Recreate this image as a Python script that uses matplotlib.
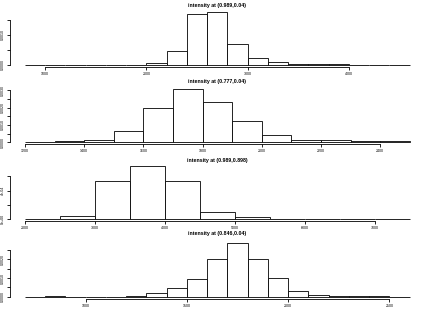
import matplotlib
matplotlib.use("Agg")
import matplotlib.pyplot as plt
import numpy as np

plt.rcParams['font.family'] = ['Liberation Sans', 'DejaVu Sans']

# panel titles
titles = ['intensity at (0.989,0.04)', 'intensity at (0.777,0.04)',
          'intensity at (0.989,0.898)', 'intensity at (0.846,0.04)']

# bin edges of each histogram
edges1 = np.arange(800, 4601, 200)
edges2 = np.arange(1200, 2501, 100)
edges3 = np.arange(2000, 7501, 500)
edges4 = np.arange(700, 2601, 100)

# densities
dens1 = [0.000002, 0.0, 0.000004, 0.0, 0.000006, 0.00001, 0.00007, 0.00045, 0.00168,
         0.00177, 0.00071, 0.00022, 0.00009, 0.00003, 0.00002, 0.00002, 0.00001,
         0.00001, 0.000005]
dens2 = [0.0, 0.00006, 0.00012, 0.00062, 0.00198, 0.00308, 0.00233, 0.00121,
         0.0004, 0.00015, 0.0001, 0.00006, 0.00004]
dens3 = [0.0, 0.000047, 0.00053, 0.000744, 0.00053, 0.0001, 0.000028, 0.00001,
         0.000005, 0.000002, 0.0]
dens4 = [0.0, 0.00001, 0.0, 0.0, 0.0, 0.00001, 0.00018, 0.00048, 0.00095, 0.00204,
         0.00286, 0.00205, 0.001, 0.0003, 0.00007, 0.00005, 0.00002, 0.00001, 0.0]

# axis ticks and labels
xticks = [[1000, 2000, 3000, 4000],
          [1200, 1400, 1600, 1800, 2000, 2200, 2400],
          [2000, 3000, 4000, 5000, 6000, 7000],
          [1000, 1500, 2000, 2500]]
yticks = [[0, 0.0005, 0.001, 0.0015],
          [0, 0.0005, 0.001, 0.0015, 0.002, 0.0025, 0.003],
          [0, 0.0002, 0.0004, 0.0006],
          [0, 0.0005, 0.001, 0.0015, 0.002, 0.0025]]
ylabels = [['0.0000', '', '0.0010', ''],
           ['0.0000', '', '0.0010', '', '0.0020', '', '0.0030'],
           ['0e+00', '', '4e-04', ''],
           ['0.0000', '', '0.0010', '', '0.0020', '']]

edges = [edges1, edges2, edges3, edges4]
dens = [dens1, dens2, dens3, dens4]
title_pads = [1.9, 3.0, 1.6, 4.2]
bottoms = [0.783, 0.533, 0.2835, 0.033]

fig = plt.figure(figsize=(4.36, 3.09), dpi=100)
for i in range(4):
    ax = fig.add_axes([0.022, bottoms[i], 0.953, 0.186])
    e = edges[i]
    ax.bar(e[:-1], dens[i], width=np.diff(e), align='edge', color='white',
           edgecolor='black', linewidth=0.6)
    span = e[-1] - e[0]
    ax.set_xlim(e[0] - 0.04 * span, e[-1] + 0.04 * span)
    top = max(dens[i])
    ax.set_ylim(-0.04 * top, 1.04 * top)
    ax.set_xticks(xticks[i], [str(t) for t in xticks[i]])
    ax.set_yticks(yticks[i], ylabels[i])
    for s in ['top', 'right']:
        ax.spines[s].set_visible(False)
    ax.spines['bottom'].set_bounds(xticks[i][0], xticks[i][-1])
    ax.spines['left'].set_bounds(yticks[i][0], yticks[i][-1])
    for s in ['bottom', 'left']:
        ax.spines[s].set_linewidth(0.6)
    ax.tick_params(direction='out', length=2.2, width=0.6, labelsize=2.6, pad=1.2)
    ax.tick_params(axis='y', pad=1.5)
    for lab in ax.get_yticklabels():
        lab.set_rotation(90)
        lab.set_va('center')
    ax.set_title(titles[i], fontsize=3.8, fontweight='bold', pad=title_pads[i])

fig.savefig('out.png', dpi=100)
